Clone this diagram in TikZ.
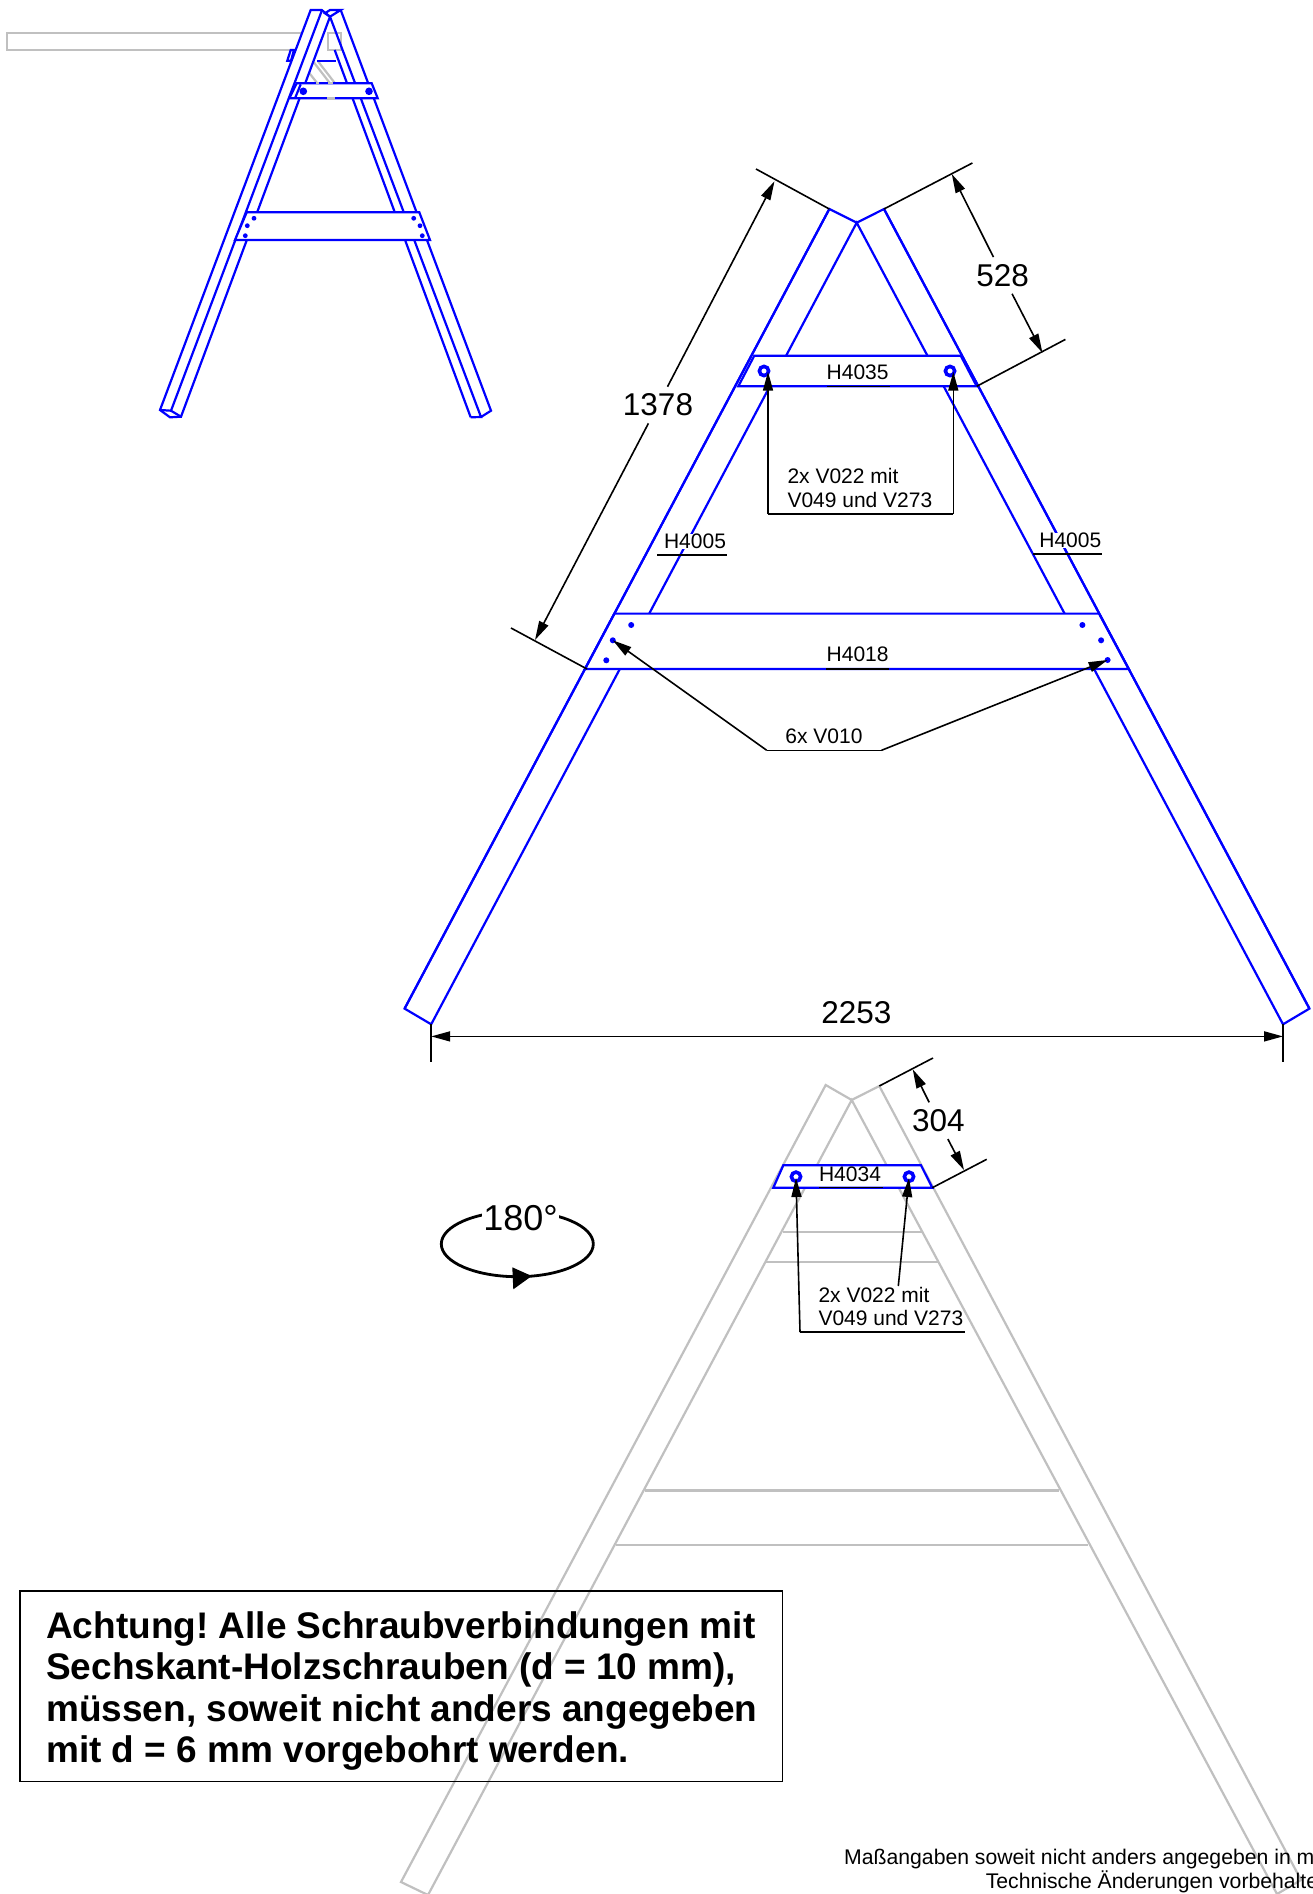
\documentclass[tikz,border=0pt]{standalone}
\usepackage{fontspec}
\setmainfont{Liberation Sans}
\usetikzlibrary{arrows.meta}
\tikzset{
  part/.style={draw=partblue, line width=2.2pt, line join=miter},
  bar/.style={part, fill=white},
  ghost/.style={draw=ghostgrey, line width=2.2pt},
  dimline/.style={draw=black, line width=1.6pt},
  dimarrow/.style={dimline, -{Triangle[length=19pt,width=10pt]}},
  dimboth/.style={dimline, {Triangle[length=19pt,width=10pt]}-{Triangle[length=19pt,width=10pt]}},
  partlabel/.style={fill=white, inner sep=0pt, font=\fontsize{21}{24}\selectfont},
  footlabel/.style={anchor=west, inner sep=0pt, font=\fontsize{21.2}{24}\selectfont},
  dimlabel/.style={inner sep=7pt, font=\fontsize{31.5}{36}\selectfont},
  hole/.style={draw=partblue, line width=3.6pt, fill=white},
}
\definecolor{partblue}{HTML}{0000FF}
\definecolor{ghostgrey}{HTML}{C0C0C0}
\begin{document}
\frenchspacing
\begin{tikzpicture}[x=1pt, y=-1pt]
        \path[use as bounding box, clip] (0,0) rectangle (1313,1894);

        % small view
        \draw[ghost] (303,33.3) -- (7.3,33.3) -- (7.3,50) -- (297,50);
        \draw[ghost] (328,33.3) rectangle (341,50);
        \draw[ghost, line cap=round, line width=5pt] (307,28.5) -- (309.5,27);
        \draw[ghost] (313.3,61.7) -- (330,83.3);
        \draw[ghost] (318.3,61.7) -- (335,83.3);
        \draw[ghost] (308.3,71.7) -- (317.3,83.3);
        \draw[part] (287.3,60.7) -- (290.7,50) -- (294,50) -- (291,60.7) -- cycle;
        \draw[part] (317.3,60.7) -- (336,60.7);
        \draw[part] (334.7,50) -- (470.7,417.3);
        \draw[part] (330,16.7) -- (481,417) -- (470.7,417.3) (481,417) -- (491,410.7) -- (340.7,10);
        \draw[bar] (310.7,10) -- (321.7,10) -- (330,16.7) -- (181,416.7) -- (170,417.3) -- (160,410) -- cycle;
        \draw[part] (321.7,11) -- (171,410.7) -- (181,416.7);
        \draw[part] (171,410.7) -- (160,410);
        \draw[part] (340.7,10) -- (330,10) -- (325,13.3) -- (330,16.7) -- cycle;
        \draw[bar] (246.7,212.3) -- (419.3,212.3) -- (430,240) -- (235,240) -- cycle;
        \draw[bar] (296.7,83.3) -- (371.7,83.3) -- (377.7,98.3) -- (289.3,98.3) -- cycle;
        \draw[part] (300.7,84.3) -- (295,98.3);
        \draw[ghost] (316,83.3) -- (319,83.3) (328,83.3) -- (333,83.3) (327,98.5) -- (335,98.5);
        \foreach \px/\py in {254/218.3, 247.3/225.7, 245.3/235.7, 413.7/218.3, 420/225.7, 422.3/235.7}
          \fill[partblue] (\px,\py) circle (2.4pt);
        \foreach \px in {303.3, 369}
          \fill[partblue] (\px,91.3) circle (3.8pt);

        % front view
        \coordinate (lt) at (829.3,209);
        \coordinate (ap) at (856.7,222.7);
        \coordinate (rt) at (884,209);
        \coordinate (lb) at (404.6,1008.6);
        \coordinate (li) at (431.2,1024.3);
        \coordinate (rb) at (1309.4,1008.6);
        \coordinate (ri) at (1283,1024.3);
        \draw[part] (lt) -- (ap) -- (rt) -- (rb) -- (ri) -- (ap) -- (li) -- (lb) -- cycle;
        \draw[bar] (754.3,355.7) -- (960.7,355.7) -- (976.7,386.3) -- (738.3,386.3) -- cycle;
        \draw[bar] (614.4,613.6) -- (1099,613.6) -- (1128.7,669) -- (585,669) -- cycle;
        \draw[part] (lt) -- (lb);
        \draw[part] (rt) -- (rb);
        \foreach \px/\py in {631.2/625, 612.8/640.3, 606.3/660.3, 1082.4/625, 1101.1/640.3, 1107.6/660}
          \fill[partblue] (\px,\py) circle (3pt);
        \foreach \px in {764, 950}
          \draw[hole] (\px,371) circle (4.6pt);

        \node[partlabel] (h4035) at (857.6,372) {H4035};
        \node[partlabel] (h4018) at (857.6,654.5) {H4018};
        \node[partlabel] (h4005l) at (695,541.5) {H4005};
        \node[partlabel] (h4005r) at (1070.3,540.5) {H4005};
        \draw[dimline] (826.7,386.3) -- (890,386.3);
        \draw[dimline] (826,669) -- (889,669);
        \draw[dimline] (657.3,555) -- (727.3,555);
        \draw[dimline] (1033.3,553.7) -- (1101.7,553.7);

        \node[dimlabel] (d1378) at (658,405) {1378};
        \node[dimlabel] (d528) at (1002.6,275.4) {528};
        \node[dimlabel] (d2253) at (856.4,1013) {2253};
        \coordinate (e1) at (756,169);
        \coordinate (e2) at (511,628);
        \coordinate (e3) at (972.4,163);
        \coordinate (e4) at (1065.4,339.4);
        \coordinate (b1) at (587,669);
        \coordinate (b2) at (976.7,386.3);
        \coordinate (t1) at (774.5,181.2);
        \coordinate (t2) at (535,640);
        \coordinate (t3) at (951.8,174);
        \coordinate (t4) at (1042.4,352.7);
        \coordinate (f1) at (431.2,1036.4);
        \coordinate (f2) at (1283,1036.4);
        \draw[dimline] (lt) -- (e1);
        \draw[dimline] (b1) -- (e2);
        \draw[dimline] (rt) -- (e3);
        \draw[dimline] (b2) -- (e4);
        \draw[dimarrow] (d1378) -- (t1);
        \draw[dimarrow] (d1378) -- (t2);
        \draw[dimarrow] (d528) -- (t3);
        \draw[dimarrow] (d528) -- (t4);
        \draw[dimline] (li) -- (431.2,1062);
        \draw[dimline] (ri) -- (1283,1062);
        \draw[dimboth] (f1) -- (f2);

        \coordinate (s1) at (768,371.7);
        \coordinate (s2) at (953.3,371.7);
        \coordinate (s3) at (768,514);
        \coordinate (s4) at (953.3,514);
        \draw[dimarrow] (s3) -- (s1);
        \draw[dimarrow] (s4) -- (s2);
        \draw[dimline] (s3) -- (s4);
        \node[partlabel, fill=none, anchor=west] (v022a) at (787.3,476) {2x V022 mit};
        \node[partlabel, fill=none, anchor=west] (v049a) at (787.3,500) {V049 und V273};

        \node[partlabel, fill=none] (v010) at (824,736) {6x V010};
        \coordinate (w1) at (766.7,750.3);
        \coordinate (w2) at (881.5,750.3);
        \coordinate (w3) at (612.8,640.3);
        \coordinate (w4) at (1107.6,660);
        \draw[dimline] (w1) -- (w2);
        \draw[dimarrow] (w1) -- (w3);
        \draw[dimarrow] (w2) -- (w4);

        % rear view
        \draw[ghost] (825.7,1085) -- (851.7,1100) -- (879.3,1086) -- (1301,1880) -- (1277,1894) -- (851.7,1100) -- (428,1895) -- (401,1882) -- cycle;
        \foreach \gy/\gl/\gr in {1232/782.7/922, 1262.3/765.8/938, 1490.5/645/1059.3, 1545/616/1088.3}
          \draw[ghost] (\gl,\gy) -- (\gr,\gy);
        \draw[bar] (783.3,1165.3) -- (921,1165.3) -- (932.3,1187.7) -- (773.3,1187.7) -- cycle;
        \foreach \px in {796, 909}
          \draw[hole] (\px,1176.7) circle (4.6pt);
        \node[partlabel] (h4034) at (850,1174) {H4034};
        \draw[dimline] (819,1187.5) -- (882.7,1187.5);

        \node[dimlabel] (d304) at (938.3,1120.7) {304};
        \coordinate (e5) at (879.3,1086);
        \coordinate (e6) at (933,1058);
        \coordinate (e7) at (932.3,1187.7);
        \coordinate (e8) at (986.7,1159.3);
        \coordinate (t5) at (912.7,1069.3);
        \coordinate (t6) at (964,1170);
        \draw[dimline] (e5) -- (e6);
        \draw[dimline] (e7) -- (e8);
        \draw[dimarrow] (d304) -- (t5);
        \draw[dimarrow] (d304) -- (t6);

        \node[partlabel, anchor=west] (v022b) at (818.3,1295) {2x V022 mit};
        \node[partlabel, anchor=west] (v049b) at (818.3,1318) {V049 und V273};
        \coordinate (s5) at (796,1178);
        \coordinate (s6) at (909,1178);
        \coordinate (s7) at (800,1332);
        \coordinate (s8) at (964.5,1332);
        \coordinate (s9) at (898.3,1286);
        \draw[dimline] (s7) -- (s8);
        \draw[dimarrow] (s7) -- (s5);
        \draw[dimarrow] (s9) -- (s6);

        % turn sign
        \draw[line width=2.8pt] (517.3,1244) ellipse [x radius=76pt, y radius=32.7pt];
        \fill (512.3,1267.3) -- (531.7,1276) -- (513.3,1289.3) -- cycle;
        \node[fill=white, inner sep=1pt, font=\fontsize{36}{40}\selectfont] (turn) at (520.5,1218) {180°};

        % note
        \node[draw=black, line width=1.6pt, anchor=north west, minimum width=762.5pt, minimum height=190.5pt] (note) at (19,1590) {};
        \node[anchor=west, inner sep=0pt, align=left, font=\fontsize{37}{41.4}\selectfont\bfseries] (notetext) at ([xshift=27pt,yshift=-5pt]note.west)
          {Achtung! Alle Schraubverbindungen mit\\
           Sechskant-Holzschrauben (d = 10 mm),\\
           müssen, soweit nicht anders angegeben\\
           mit d = 6 mm vorgebohrt werden.};

        \node[footlabel] (foot1) at (844,1859) {Maßangaben soweit nicht anders angegeben in mm};
        \node[footlabel] (foot2) at (985.6,1881.5) {Technische Änderungen vorbehalten};
\end{tikzpicture}
\end{document}
